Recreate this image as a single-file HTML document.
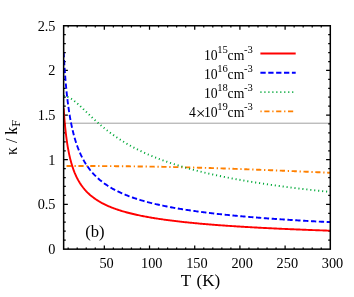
<!DOCTYPE html><html><head><meta charset="utf-8"><style>html,body{margin:0;padding:0;background:#fff}svg{display:block;will-change:transform}text{font-family:"Liberation Serif",serif;fill:#000}</style></head><body>
<svg width="354" height="297" viewBox="0 0 354 297">
<rect width="354" height="297" fill="#fff"/>
<clipPath id="c"><rect x="63.65" y="25.8" width="266.65000000000003" height="223.14999999999998"/></clipPath>
<line x1="63.65" x2="330.3" y1="123.2" y2="123.2" stroke="#a0a0a0" stroke-width="1"/>
<path d="M68.17,248.95v-1.45M68.17,25.8v1.80M77.21,248.95v-1.45M77.21,25.8v1.80M86.25,248.95v-1.45M86.25,25.8v1.80M95.29,248.95v-1.45M95.29,25.8v1.80M104.33,248.95v-3.55M104.33,25.8v3.90M113.36,248.95v-1.45M113.36,25.8v1.80M122.40,248.95v-1.45M122.40,25.8v1.80M131.44,248.95v-1.45M131.44,25.8v1.80M140.48,248.95v-1.45M140.48,25.8v1.80M149.52,248.95v-3.55M149.52,25.8v3.90M158.56,248.95v-1.45M158.56,25.8v1.80M167.60,248.95v-1.45M167.60,25.8v1.80M176.64,248.95v-1.45M176.64,25.8v1.80M185.68,248.95v-1.45M185.68,25.8v1.80M194.72,248.95v-3.55M194.72,25.8v3.90M203.75,248.95v-1.45M203.75,25.8v1.80M212.79,248.95v-1.45M212.79,25.8v1.80M221.83,248.95v-1.45M221.83,25.8v1.80M230.87,248.95v-1.45M230.87,25.8v1.80M239.91,248.95v-3.55M239.91,25.8v3.90M248.95,248.95v-1.45M248.95,25.8v1.80M257.99,248.95v-1.45M257.99,25.8v1.80M267.03,248.95v-1.45M267.03,25.8v1.80M276.07,248.95v-1.45M276.07,25.8v1.80M285.11,248.95v-3.55M285.11,25.8v3.90M294.14,248.95v-1.45M294.14,25.8v1.80M303.18,248.95v-1.45M303.18,25.8v1.80M312.22,248.95v-1.45M312.22,25.8v1.80M321.26,248.95v-1.45M321.26,25.8v1.80M63.65,240.02h2.1M330.3,240.02h-2.1M63.65,231.10h2.1M330.3,231.10h-2.1M63.65,222.17h2.1M330.3,222.17h-2.1M63.65,213.25h2.1M330.3,213.25h-2.1M63.65,204.32h4.2M330.3,204.32h-4.2M63.65,195.39h2.1M330.3,195.39h-2.1M63.65,186.47h2.1M330.3,186.47h-2.1M63.65,177.54h2.1M330.3,177.54h-2.1M63.65,168.62h2.1M330.3,168.62h-2.1M63.65,159.69h4.2M330.3,159.69h-4.2M63.65,150.76h2.1M330.3,150.76h-2.1M63.65,141.84h2.1M330.3,141.84h-2.1M63.65,132.91h2.1M330.3,132.91h-2.1M63.65,123.99h2.1M330.3,123.99h-2.1M63.65,115.06h4.2M330.3,115.06h-4.2M63.65,106.13h2.1M330.3,106.13h-2.1M63.65,97.21h2.1M330.3,97.21h-2.1M63.65,88.28h2.1M330.3,88.28h-2.1M63.65,79.36h2.1M330.3,79.36h-2.1M63.65,70.43h4.2M330.3,70.43h-4.2M63.65,61.50h2.1M330.3,61.50h-2.1M63.65,52.58h2.1M330.3,52.58h-2.1M63.65,43.65h2.1M330.3,43.65h-2.1M63.65,34.73h2.1M330.3,34.73h-2.1" stroke="#000" stroke-width="1.25" fill="none"/>
<g clip-path="url(#c)" fill="none" stroke-width="1.9">
<path d="M63.65,165.93 L64.03,165.93 L64.40,165.93 L64.78,165.93 L65.16,165.93 L65.53,165.93 L65.91,165.93 L66.29,165.94 L66.66,165.94 L67.04,165.94 L67.42,165.94 L67.79,165.94 L68.17,165.94 L68.55,165.94 L68.92,165.94 L69.30,165.94 L69.68,165.94 L70.05,165.94 L70.43,165.94 L70.81,165.94 L71.18,165.94 L71.56,165.94 L71.94,165.94 L72.31,165.94 L72.69,165.95 L73.07,165.95 L73.44,165.95 L73.82,165.95 L74.20,165.95 L74.57,165.95 L74.95,165.95 L75.33,165.95 L75.70,165.95 L76.08,165.95 L76.46,165.95 L76.83,165.96 L77.21,165.96 L77.59,165.96 L77.96,165.96 L78.34,165.96 L78.71,165.96 L79.09,165.96 L79.47,165.96 L79.84,165.96 L80.22,165.97 L80.60,165.97 L80.97,165.97 L81.35,165.97 L81.73,165.97 L82.10,165.97 L82.48,165.97 L82.86,165.97 L83.23,165.98 L83.61,165.98 L83.99,165.98 L84.36,165.98 L84.74,165.98 L85.12,165.98 L85.49,165.98 L85.87,165.99 L86.25,165.99 L87.27,165.99 L88.29,166.00 L89.31,166.00 L90.33,166.01 L91.35,166.01 L92.37,166.02 L93.40,166.02 L94.42,166.03 L95.44,166.03 L96.46,166.04 L97.48,166.04 L98.50,166.05 L99.52,166.06 L100.54,166.06 L101.56,166.07 L102.59,166.08 L103.61,166.08 L104.63,166.09 L105.65,166.10 L106.67,166.11 L107.69,166.11 L108.71,166.12 L109.73,166.13 L110.75,166.14 L111.78,166.15 L112.80,166.15 L113.82,166.16 L114.84,166.17 L115.86,166.18 L116.88,166.19 L117.90,166.20 L118.92,166.21 L119.95,166.22 L120.97,166.23 L121.99,166.24 L123.01,166.25 L124.03,166.26 L125.05,166.27 L126.07,166.29 L127.09,166.30 L128.11,166.31 L129.14,166.32 L130.16,166.33 L131.18,166.34 L132.20,166.36 L133.22,166.37 L134.24,166.38 L135.26,166.40 L136.28,166.41 L137.30,166.42 L138.33,166.44 L139.35,166.45 L140.37,166.47 L141.39,166.48 L142.41,166.49 L143.43,166.51 L144.45,166.53 L145.47,166.54 L146.49,166.56 L147.52,166.57 L148.54,166.59 L149.56,166.61 L150.58,166.62 L151.60,166.64 L152.62,166.66 L153.64,166.67 L154.66,166.69 L155.69,166.71 L156.71,166.73 L157.73,166.75 L158.75,166.77 L159.77,166.79 L160.79,166.80 L161.81,166.82 L162.83,166.84 L163.85,166.86 L164.88,166.88 L165.90,166.91 L166.92,166.93 L167.94,166.95 L168.96,166.97 L169.98,166.99 L171.00,167.01 L172.02,167.03 L173.04,167.06 L174.07,167.08 L175.09,167.10 L176.11,167.13 L177.13,167.15 L178.15,167.17 L179.17,167.20 L180.19,167.22 L181.21,167.25 L182.23,167.27 L183.26,167.30 L184.28,167.32 L185.30,167.35 L186.32,167.37 L187.34,167.40 L188.36,167.42 L189.38,167.45 L190.40,167.48 L191.42,167.51 L192.45,167.53 L193.47,167.56 L194.49,167.59 L195.51,167.62 L196.53,167.64 L197.55,167.67 L198.57,167.70 L199.59,167.73 L200.62,167.76 L201.64,167.79 L202.66,167.82 L203.68,167.85 L204.70,167.88 L205.72,167.91 L206.74,167.94 L207.76,167.97 L208.78,168.00 L209.81,168.03 L210.83,168.06 L211.85,168.10 L212.87,168.13 L213.89,168.16 L214.91,168.19 L215.93,168.22 L216.95,168.26 L217.97,168.29 L219.00,168.32 L220.02,168.36 L221.04,168.39 L222.06,168.42 L223.08,168.46 L224.10,168.49 L225.12,168.53 L226.14,168.56 L227.16,168.60 L228.19,168.63 L229.21,168.67 L230.23,168.70 L231.25,168.74 L232.27,168.77 L233.29,168.81 L234.31,168.84 L235.33,168.88 L236.36,168.92 L237.38,168.95 L238.40,168.99 L239.42,169.03 L240.44,169.06 L241.46,169.10 L242.48,169.14 L243.50,169.18 L244.52,169.21 L245.55,169.25 L246.57,169.29 L247.59,169.33 L248.61,169.36 L249.63,169.40 L250.65,169.44 L251.67,169.48 L252.69,169.52 L253.71,169.56 L254.74,169.60 L255.76,169.64 L256.78,169.68 L257.80,169.72 L258.82,169.76 L259.84,169.80 L260.86,169.84 L261.88,169.88 L262.90,169.92 L263.93,169.96 L264.95,170.00 L265.97,170.04 L266.99,170.08 L268.01,170.12 L269.03,170.16 L270.05,170.20 L271.07,170.24 L272.10,170.28 L273.12,170.32 L274.14,170.37 L275.16,170.41 L276.18,170.45 L277.20,170.49 L278.22,170.53 L279.24,170.57 L280.26,170.62 L281.29,170.66 L282.31,170.70 L283.33,170.74 L284.35,170.79 L285.37,170.83 L286.39,170.87 L287.41,170.91 L288.43,170.96 L289.45,171.00 L290.48,171.04 L291.50,171.08 L292.52,171.13 L293.54,171.17 L294.56,171.21 L295.58,171.26 L296.60,171.30 L297.62,171.34 L298.64,171.39 L299.67,171.43 L300.69,171.48 L301.71,171.52 L302.73,171.56 L303.75,171.61 L304.77,171.65 L305.79,171.70 L306.81,171.74 L307.83,171.78 L308.86,171.83 L309.88,171.87 L310.90,171.92 L311.92,171.96 L312.94,172.00 L313.96,172.05 L314.98,172.09 L316.00,172.14 L317.03,172.18 L318.05,172.23 L319.07,172.27 L320.09,172.32 L321.11,172.36 L322.13,172.41 L323.15,172.45 L324.17,172.50 L325.19,172.54 L326.22,172.59 L327.24,172.63 L328.26,172.68 L329.28,172.72 L330.30,172.77" stroke="#ff8000" stroke-dasharray="1.3,2.6,5.2,2.75" stroke-dashoffset="1.0"/>
<path d="M63.65,95.82 L64.03,95.89 L64.40,95.97 L64.78,96.06 L65.16,96.15 L65.53,96.25 L65.91,96.36 L66.29,96.48 L66.66,96.60 L67.04,96.73 L67.42,96.87 L67.79,97.03 L68.17,97.18 L68.55,97.35 L68.92,97.53 L69.30,97.72 L69.68,97.91 L70.05,98.11 L70.43,98.33 L70.81,98.55 L71.18,98.78 L71.56,99.01 L71.94,99.26 L72.31,99.51 L72.69,99.77 L73.07,100.04 L73.44,100.31 L73.82,100.59 L74.20,100.88 L74.57,101.17 L74.95,101.46 L75.33,101.77 L75.70,102.08 L76.08,102.39 L76.46,102.71 L76.83,103.03 L77.21,103.36 L77.59,103.69 L77.96,104.02 L78.34,104.36 L78.71,104.70 L79.09,105.04 L79.47,105.38 L79.84,105.73 L80.22,106.08 L80.60,106.44 L80.97,106.79 L81.35,107.15 L81.73,107.50 L82.10,107.86 L82.48,108.22 L82.86,108.58 L83.23,108.95 L83.61,109.31 L83.99,109.67 L84.36,110.04 L84.74,110.40 L85.12,110.76 L85.49,111.13 L85.87,111.49 L86.25,111.86 L87.27,112.85 L88.29,113.83 L89.31,114.81 L90.33,115.79 L91.35,116.75 L92.37,117.71 L93.40,118.67 L94.42,119.61 L95.44,120.54 L96.46,121.46 L97.48,122.37 L98.50,123.27 L99.52,124.16 L100.54,125.04 L101.56,125.90 L102.59,126.75 L103.61,127.59 L104.63,128.42 L105.65,129.24 L106.67,130.05 L107.69,130.84 L108.71,131.62 L109.73,132.39 L110.75,133.15 L111.78,133.90 L112.80,134.63 L113.82,135.36 L114.84,136.07 L115.86,136.78 L116.88,137.47 L117.90,138.15 L118.92,138.82 L119.95,139.49 L120.97,140.14 L121.99,140.78 L123.01,141.41 L124.03,142.04 L125.05,142.65 L126.07,143.26 L127.09,143.85 L128.11,144.44 L129.14,145.02 L130.16,145.59 L131.18,146.16 L132.20,146.71 L133.22,147.26 L134.24,147.80 L135.26,148.33 L136.28,148.85 L137.30,149.37 L138.33,149.88 L139.35,150.38 L140.37,150.88 L141.39,151.37 L142.41,151.85 L143.43,152.33 L144.45,152.80 L145.47,153.26 L146.49,153.72 L147.52,154.17 L148.54,154.62 L149.56,155.06 L150.58,155.49 L151.60,155.92 L152.62,156.35 L153.64,156.77 L154.66,157.18 L155.69,157.59 L156.71,157.99 L157.73,158.39 L158.75,158.78 L159.77,159.17 L160.79,159.55 L161.81,159.93 L162.83,160.31 L163.85,160.68 L164.88,161.05 L165.90,161.41 L166.92,161.76 L167.94,162.12 L168.96,162.47 L169.98,162.81 L171.00,163.16 L172.02,163.49 L173.04,163.83 L174.07,164.16 L175.09,164.49 L176.11,164.81 L177.13,165.13 L178.15,165.45 L179.17,165.76 L180.19,166.07 L181.21,166.37 L182.23,166.68 L183.26,166.98 L184.28,167.27 L185.30,167.57 L186.32,167.86 L187.34,168.15 L188.36,168.43 L189.38,168.72 L190.40,168.99 L191.42,169.27 L192.45,169.54 L193.47,169.82 L194.49,170.08 L195.51,170.35 L196.53,170.61 L197.55,170.87 L198.57,171.13 L199.59,171.39 L200.62,171.64 L201.64,171.89 L202.66,172.14 L203.68,172.39 L204.70,172.63 L205.72,172.87 L206.74,173.11 L207.76,173.35 L208.78,173.59 L209.81,173.82 L210.83,174.05 L211.85,174.28 L212.87,174.51 L213.89,174.73 L214.91,174.96 L215.93,175.18 L216.95,175.40 L217.97,175.61 L219.00,175.83 L220.02,176.04 L221.04,176.26 L222.06,176.47 L223.08,176.67 L224.10,176.88 L225.12,177.09 L226.14,177.29 L227.16,177.49 L228.19,177.69 L229.21,177.89 L230.23,178.09 L231.25,178.28 L232.27,178.48 L233.29,178.67 L234.31,178.86 L235.33,179.05 L236.36,179.23 L237.38,179.42 L238.40,179.61 L239.42,179.79 L240.44,179.97 L241.46,180.15 L242.48,180.33 L243.50,180.51 L244.52,180.68 L245.55,180.86 L246.57,181.03 L247.59,181.21 L248.61,181.38 L249.63,181.55 L250.65,181.71 L251.67,181.88 L252.69,182.05 L253.71,182.21 L254.74,182.38 L255.76,182.54 L256.78,182.70 L257.80,182.86 L258.82,183.02 L259.84,183.18 L260.86,183.34 L261.88,183.49 L262.90,183.65 L263.93,183.80 L264.95,183.95 L265.97,184.10 L266.99,184.26 L268.01,184.41 L269.03,184.55 L270.05,184.70 L271.07,184.85 L272.10,184.99 L273.12,185.14 L274.14,185.28 L275.16,185.42 L276.18,185.57 L277.20,185.71 L278.22,185.85 L279.24,185.99 L280.26,186.12 L281.29,186.26 L282.31,186.40 L283.33,186.53 L284.35,186.67 L285.37,186.80 L286.39,186.93 L287.41,187.07 L288.43,187.20 L289.45,187.33 L290.48,187.46 L291.50,187.59 L292.52,187.72 L293.54,187.84 L294.56,187.97 L295.58,188.09 L296.60,188.22 L297.62,188.34 L298.64,188.47 L299.67,188.59 L300.69,188.71 L301.71,188.83 L302.73,188.95 L303.75,189.07 L304.77,189.19 L305.79,189.31 L306.81,189.43 L307.83,189.55 L308.86,189.66 L309.88,189.78 L310.90,189.89 L311.92,190.01 L312.94,190.12 L313.96,190.23 L314.98,190.35 L316.00,190.46 L317.03,190.57 L318.05,190.68 L319.07,190.79 L320.09,190.90 L321.11,191.01 L322.13,191.12 L323.15,191.22 L324.17,191.33 L325.19,191.44 L326.22,191.54 L327.24,191.65 L328.26,191.75 L329.28,191.86 L330.30,191.96" stroke="#00a838" stroke-dasharray="1.1,2.874" stroke-dashoffset="0"/>
<path d="M63.65,52.81 L64.03,59.36 L64.40,65.34 L64.78,70.81 L65.16,75.84 L65.53,80.48 L65.91,84.78 L66.29,88.78 L66.66,92.50 L67.04,95.99 L67.42,99.26 L67.79,102.33 L68.17,105.22 L68.55,107.96 L68.92,110.54 L69.30,113.00 L69.68,115.32 L70.05,117.54 L70.43,119.65 L70.81,121.66 L71.18,123.58 L71.56,125.42 L71.94,127.18 L72.31,128.87 L72.69,130.49 L73.07,132.05 L73.44,133.55 L73.82,135.00 L74.20,136.39 L74.57,137.73 L74.95,139.02 L75.33,140.28 L75.70,141.49 L76.08,142.66 L76.46,143.79 L76.83,144.89 L77.21,145.96 L77.59,146.99 L77.96,147.99 L78.34,148.97 L78.71,149.91 L79.09,150.83 L79.47,151.73 L79.84,152.60 L80.22,153.45 L80.60,154.28 L80.97,155.08 L81.35,155.87 L81.73,156.63 L82.10,157.38 L82.48,158.11 L82.86,158.82 L83.23,159.52 L83.61,160.20 L83.99,160.87 L84.36,161.52 L84.74,162.15 L85.12,162.78 L85.49,163.39 L85.87,163.98 L86.25,164.57 L87.27,166.10 L88.29,167.54 L89.31,168.92 L90.33,170.23 L91.35,171.47 L92.37,172.66 L93.40,173.79 L94.42,174.88 L95.44,175.92 L96.46,176.92 L97.48,177.88 L98.50,178.80 L99.52,179.69 L100.54,180.54 L101.56,181.36 L102.59,182.16 L103.61,182.92 L104.63,183.66 L105.65,184.38 L106.67,185.07 L107.69,185.75 L108.71,186.40 L109.73,187.03 L110.75,187.64 L111.78,188.23 L112.80,188.81 L113.82,189.37 L114.84,189.92 L115.86,190.45 L116.88,190.97 L117.90,191.47 L118.92,191.96 L119.95,192.44 L120.97,192.91 L121.99,193.37 L123.01,193.81 L124.03,194.24 L125.05,194.67 L126.07,195.08 L127.09,195.49 L128.11,195.88 L129.14,196.27 L130.16,196.65 L131.18,197.02 L132.20,197.38 L133.22,197.74 L134.24,198.09 L135.26,198.43 L136.28,198.76 L137.30,199.09 L138.33,199.41 L139.35,199.73 L140.37,200.04 L141.39,200.34 L142.41,200.64 L143.43,200.93 L144.45,201.22 L145.47,201.50 L146.49,201.78 L147.52,202.05 L148.54,202.32 L149.56,202.58 L150.58,202.84 L151.60,203.10 L152.62,203.35 L153.64,203.60 L154.66,203.84 L155.69,204.08 L156.71,204.31 L157.73,204.54 L158.75,204.77 L159.77,205.00 L160.79,205.22 L161.81,205.43 L162.83,205.65 L163.85,205.86 L164.88,206.07 L165.90,206.27 L166.92,206.48 L167.94,206.67 L168.96,206.87 L169.98,207.07 L171.00,207.26 L172.02,207.45 L173.04,207.63 L174.07,207.82 L175.09,208.00 L176.11,208.18 L177.13,208.35 L178.15,208.53 L179.17,208.70 L180.19,208.87 L181.21,209.04 L182.23,209.20 L183.26,209.37 L184.28,209.53 L185.30,209.69 L186.32,209.84 L187.34,210.00 L188.36,210.15 L189.38,210.31 L190.40,210.46 L191.42,210.61 L192.45,210.75 L193.47,210.90 L194.49,211.04 L195.51,211.18 L196.53,211.32 L197.55,211.46 L198.57,211.60 L199.59,211.74 L200.62,211.87 L201.64,212.00 L202.66,212.14 L203.68,212.27 L204.70,212.39 L205.72,212.52 L206.74,212.65 L207.76,212.77 L208.78,212.90 L209.81,213.02 L210.83,213.14 L211.85,213.26 L212.87,213.38 L213.89,213.49 L214.91,213.61 L215.93,213.73 L216.95,213.84 L217.97,213.95 L219.00,214.07 L220.02,214.18 L221.04,214.29 L222.06,214.39 L223.08,214.50 L224.10,214.61 L225.12,214.71 L226.14,214.82 L227.16,214.92 L228.19,215.03 L229.21,215.13 L230.23,215.23 L231.25,215.33 L232.27,215.43 L233.29,215.53 L234.31,215.62 L235.33,215.72 L236.36,215.82 L237.38,215.91 L238.40,216.01 L239.42,216.10 L240.44,216.19 L241.46,216.28 L242.48,216.37 L243.50,216.46 L244.52,216.55 L245.55,216.64 L246.57,216.73 L247.59,216.82 L248.61,216.90 L249.63,216.99 L250.65,217.08 L251.67,217.16 L252.69,217.24 L253.71,217.33 L254.74,217.41 L255.76,217.49 L256.78,217.57 L257.80,217.65 L258.82,217.73 L259.84,217.81 L260.86,217.89 L261.88,217.97 L262.90,218.05 L263.93,218.13 L264.95,218.20 L265.97,218.28 L266.99,218.35 L268.01,218.43 L269.03,218.50 L270.05,218.58 L271.07,218.65 L272.10,218.72 L273.12,218.79 L274.14,218.87 L275.16,218.94 L276.18,219.01 L277.20,219.08 L278.22,219.15 L279.24,219.22 L280.26,219.29 L281.29,219.35 L282.31,219.42 L283.33,219.49 L284.35,219.56 L285.37,219.62 L286.39,219.69 L287.41,219.75 L288.43,219.82 L289.45,219.88 L290.48,219.95 L291.50,220.01 L292.52,220.07 L293.54,220.14 L294.56,220.20 L295.58,220.26 L296.60,220.32 L297.62,220.39 L298.64,220.45 L299.67,220.51 L300.69,220.57 L301.71,220.63 L302.73,220.69 L303.75,220.75 L304.77,220.80 L305.79,220.86 L306.81,220.92 L307.83,220.98 L308.86,221.03 L309.88,221.09 L310.90,221.15 L311.92,221.20 L312.94,221.26 L313.96,221.32 L314.98,221.37 L316.00,221.43 L317.03,221.48 L318.05,221.53 L319.07,221.59 L320.09,221.64 L321.11,221.70 L322.13,221.75 L323.15,221.80 L324.17,221.85 L325.19,221.91 L326.22,221.96 L327.24,222.01 L328.26,222.06 L329.28,222.11 L330.30,222.16" stroke="#0000ff" stroke-dasharray="5.28,2.592" stroke-dashoffset="0.7"/>
<path d="M63.65,108.40 L64.03,113.83 L64.40,118.67 L64.78,123.03 L65.16,126.98 L65.53,130.58 L65.91,133.88 L66.29,136.92 L66.66,139.73 L67.04,142.34 L67.42,144.78 L67.79,147.05 L68.17,149.18 L68.55,151.19 L68.92,153.07 L69.30,154.86 L69.68,156.54 L70.05,158.14 L70.43,159.66 L70.81,161.11 L71.18,162.48 L71.56,163.80 L71.94,165.06 L72.31,166.26 L72.69,167.41 L73.07,168.52 L73.44,169.58 L73.82,170.60 L74.20,171.58 L74.57,172.53 L74.95,173.44 L75.33,174.32 L75.70,175.17 L76.08,176.00 L76.46,176.79 L76.83,177.56 L77.21,178.31 L77.59,179.03 L77.96,179.73 L78.34,180.41 L78.71,181.07 L79.09,181.71 L79.47,182.34 L79.84,182.95 L80.22,183.54 L80.60,184.11 L80.97,184.67 L81.35,185.22 L81.73,185.75 L82.10,186.27 L82.48,186.78 L82.86,187.27 L83.23,187.76 L83.61,188.23 L83.99,188.69 L84.36,189.14 L84.74,189.58 L85.12,190.01 L85.49,190.43 L85.87,190.85 L86.25,191.25 L87.27,192.31 L88.29,193.31 L89.31,194.25 L90.33,195.16 L91.35,196.01 L92.37,196.83 L93.40,197.61 L94.42,198.36 L95.44,199.08 L96.46,199.76 L97.48,200.42 L98.50,201.06 L99.52,201.66 L100.54,202.25 L101.56,202.82 L102.59,203.36 L103.61,203.89 L104.63,204.40 L105.65,204.89 L106.67,205.36 L107.69,205.82 L108.71,206.27 L109.73,206.70 L110.75,207.12 L111.78,207.53 L112.80,207.92 L113.82,208.31 L114.84,208.68 L115.86,209.05 L116.88,209.40 L117.90,209.75 L118.92,210.08 L119.95,210.41 L120.97,210.73 L121.99,211.04 L123.01,211.34 L124.03,211.64 L125.05,211.93 L126.07,212.22 L127.09,212.49 L128.11,212.76 L129.14,213.03 L130.16,213.29 L131.18,213.54 L132.20,213.79 L133.22,214.03 L134.24,214.27 L135.26,214.50 L136.28,214.73 L137.30,214.96 L138.33,215.18 L139.35,215.39 L140.37,215.60 L141.39,215.81 L142.41,216.01 L143.43,216.21 L144.45,216.41 L145.47,216.60 L146.49,216.79 L147.52,216.98 L148.54,217.16 L149.56,217.34 L150.58,217.52 L151.60,217.69 L152.62,217.86 L153.64,218.03 L154.66,218.20 L155.69,218.36 L156.71,218.52 L157.73,218.68 L158.75,218.84 L159.77,218.99 L160.79,219.14 L161.81,219.29 L162.83,219.43 L163.85,219.58 L164.88,219.72 L165.90,219.86 L166.92,220.00 L167.94,220.14 L168.96,220.27 L169.98,220.40 L171.00,220.53 L172.02,220.66 L173.04,220.79 L174.07,220.91 L175.09,221.04 L176.11,221.16 L177.13,221.28 L178.15,221.40 L179.17,221.52 L180.19,221.63 L181.21,221.75 L182.23,221.86 L183.26,221.97 L184.28,222.08 L185.30,222.19 L186.32,222.30 L187.34,222.40 L188.36,222.51 L189.38,222.61 L190.40,222.72 L191.42,222.82 L192.45,222.92 L193.47,223.02 L194.49,223.11 L195.51,223.21 L196.53,223.31 L197.55,223.40 L198.57,223.50 L199.59,223.59 L200.62,223.68 L201.64,223.77 L202.66,223.86 L203.68,223.95 L204.70,224.04 L205.72,224.12 L206.74,224.21 L207.76,224.30 L208.78,224.38 L209.81,224.46 L210.83,224.55 L211.85,224.63 L212.87,224.71 L213.89,224.79 L214.91,224.87 L215.93,224.95 L216.95,225.02 L217.97,225.10 L219.00,225.18 L220.02,225.25 L221.04,225.33 L222.06,225.40 L223.08,225.48 L224.10,225.55 L225.12,225.62 L226.14,225.69 L227.16,225.76 L228.19,225.83 L229.21,225.90 L230.23,225.97 L231.25,226.04 L232.27,226.11 L233.29,226.17 L234.31,226.24 L235.33,226.31 L236.36,226.37 L237.38,226.44 L238.40,226.50 L239.42,226.56 L240.44,226.63 L241.46,226.69 L242.48,226.75 L243.50,226.81 L244.52,226.87 L245.55,226.93 L246.57,226.99 L247.59,227.05 L248.61,227.11 L249.63,227.17 L250.65,227.23 L251.67,227.29 L252.69,227.35 L253.71,227.40 L254.74,227.46 L255.76,227.51 L256.78,227.57 L257.80,227.62 L258.82,227.68 L259.84,227.73 L260.86,227.79 L261.88,227.84 L262.90,227.89 L263.93,227.95 L264.95,228.00 L265.97,228.05 L266.99,228.10 L268.01,228.15 L269.03,228.20 L270.05,228.25 L271.07,228.30 L272.10,228.35 L273.12,228.40 L274.14,228.45 L275.16,228.50 L276.18,228.55 L277.20,228.60 L278.22,228.64 L279.24,228.69 L280.26,228.74 L281.29,228.78 L282.31,228.83 L283.33,228.88 L284.35,228.92 L285.37,228.97 L286.39,229.01 L287.41,229.06 L288.43,229.10 L289.45,229.14 L290.48,229.19 L291.50,229.23 L292.52,229.27 L293.54,229.32 L294.56,229.36 L295.58,229.40 L296.60,229.44 L297.62,229.49 L298.64,229.53 L299.67,229.57 L300.69,229.61 L301.71,229.65 L302.73,229.69 L303.75,229.73 L304.77,229.77 L305.79,229.81 L306.81,229.85 L307.83,229.89 L308.86,229.93 L309.88,229.97 L310.90,230.01 L311.92,230.04 L312.94,230.08 L313.96,230.12 L314.98,230.16 L316.00,230.20 L317.03,230.23 L318.05,230.27 L319.07,230.31 L320.09,230.34 L321.11,230.38 L322.13,230.42 L323.15,230.45 L324.17,230.49 L325.19,230.52 L326.22,230.56 L327.24,230.59 L328.26,230.63 L329.28,230.66 L330.30,230.70" stroke="#ff0000"/>
</g>
<rect x="63.65" y="25.75" width="266.65000000000003" height="223.40" fill="none" stroke="#000" stroke-width="1.5"/>
<text x="106.53" y="268" font-size="14.3" text-anchor="middle">50</text>
<text x="151.72" y="268" font-size="14.3" text-anchor="middle">100</text>
<text x="196.92" y="268" font-size="14.3" text-anchor="middle">150</text>
<text x="242.11" y="268" font-size="14.3" text-anchor="middle">200</text>
<text x="287.31" y="268" font-size="14.3" text-anchor="middle">250</text>
<text x="332.50" y="268" font-size="14.3" text-anchor="middle">300</text>
<text x="55.5" y="253.85" font-size="14.3" text-anchor="end">0</text>
<text x="55.5" y="209.22" font-size="14.3" text-anchor="end">0.5</text>
<text x="55.5" y="164.59" font-size="14.3" text-anchor="end">1</text>
<text x="55.5" y="119.96" font-size="14.3" text-anchor="end">1.5</text>
<text x="55.5" y="75.33" font-size="14.3" text-anchor="end">2</text>
<text x="55.5" y="30.70" font-size="14.3" text-anchor="end">2.5</text>
<text x="180.8" y="286.4" font-size="17.0" word-spacing="1.4">T (K)</text>
<text transform="translate(17.0,137.3) rotate(-90)" font-size="15.8" text-anchor="middle">κ / k<tspan font-size="12.6" dy="3.2">F</tspan></text>
<text x="85.2" y="237.3" font-size="16.6">(b)</text>
<text x="203.9" y="60.00" font-size="13.7">10</text>
<text x="217.3" y="53.00" font-size="10.6">15</text>
<text x="227.6" y="60.00" font-size="13.7">cm</text>
<text x="244.0" y="53.00" font-size="10.6">-3</text>
<line x1="260.4" x2="295.7" y1="53.50" y2="53.50" stroke="#ff0000" stroke-width="1.9"/>
<text x="203.9" y="79.07" font-size="13.7">10</text>
<text x="217.3" y="72.07" font-size="10.6">16</text>
<text x="227.6" y="79.07" font-size="13.7">cm</text>
<text x="244.0" y="72.07" font-size="10.6">-3</text>
<line x1="260.4" x2="295.7" y1="72.80" y2="72.80" stroke="#0000ff" stroke-width="1.9" stroke-dasharray="5.28,2.592"/>
<text x="203.9" y="98.14" font-size="13.7">10</text>
<text x="217.3" y="91.14" font-size="10.6">18</text>
<text x="227.6" y="98.14" font-size="13.7">cm</text>
<text x="244.0" y="91.14" font-size="10.6">-3</text>
<line x1="260.4" x2="295.7" y1="92.10" y2="92.10" stroke="#00a838" stroke-width="1.9" stroke-dasharray="1.1,2.874"/>
<text x="189.0" y="117.21" font-size="13.7">4</text>
<text x="195.7" y="118.61" font-size="17.5">×</text>
<text x="203.9" y="117.21" font-size="13.7">10</text>
<text x="217.3" y="110.21" font-size="10.6">19</text>
<text x="227.6" y="117.21" font-size="13.7">cm</text>
<text x="244.0" y="110.21" font-size="10.6">-3</text>
<line x1="260.4" x2="295.7" y1="111.40" y2="111.40" stroke="#ff8000" stroke-width="1.9" stroke-dasharray="1.3,2.6,5.2,2.75"/>
</svg></body></html>
